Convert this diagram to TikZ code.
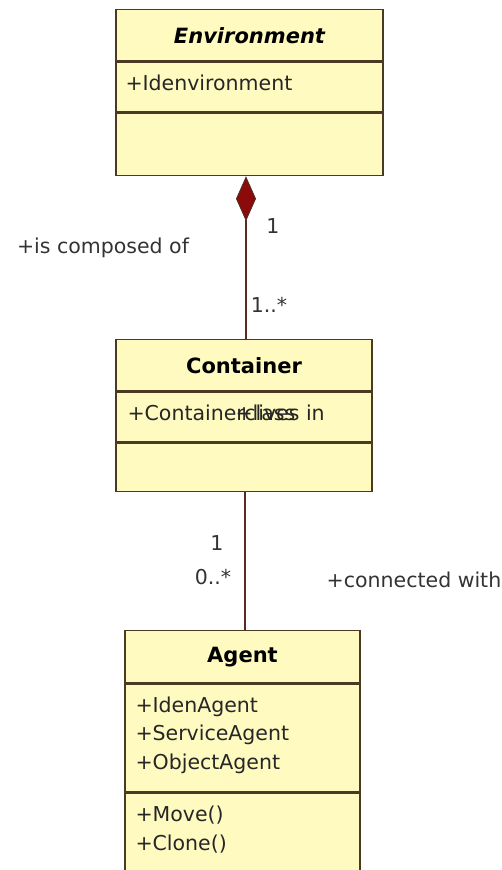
\documentclass[tikz,border=0pt]{standalone}
\usepackage{fontspec}
\setmainfont{DejaVu Sans}
\usetikzlibrary{arrows.meta,positioning,calc}
\definecolor{umlfill}{HTML}{FFFAC0}
\definecolor{umlborder}{HTML}{4A3A22}
\definecolor{assocline}{HTML}{5A2A22}
\definecolor{diamondred}{HTML}{8B0A0A}

\tikzset{
  classpart/.style={draw=umlborder, fill=umlfill, line width=1.4pt, anchor=north,
    inner sep=0pt, font=\fontsize{21}{26}\selectfont},
  attrtext/.style={anchor=north west, align=left, inner sep=0pt,
    font=\fontsize{20.5}{28.5}\selectfont, text=black!85},
  assoc/.style={draw=assocline, line width=1.4pt},
  rolelabel/.style={font=\fontsize{20.5}{24}\selectfont, text=black!80, inner sep=0pt}
}

\begin{document}
\begin{tikzpicture}[x=1pt, y=-1pt]
  \useasboundingbox (0,0) rectangle (502,870);
  \clip (0,0) rectangle (502,870);
  % Environment
  \node[classpart, minimum width=267pt, minimum height=51pt] (env1) at (249.5,9) {\bfseries\itshape Environment};
  \node[classpart, minimum width=267pt, minimum height=50pt, below=0pt of env1] (env2) {};
  \node[classpart, minimum width=267pt, minimum height=62pt, below=0pt of env2] (env3) {};
  \node[attrtext] (envattr) at ($(env2.north west)+(10,13)$) {+Idenvironment};
  % Container
  \node[classpart, minimum width=256pt, minimum height=51pt] (cont1) at (244,339) {\bfseries Container};
  \node[classpart, minimum width=256pt, minimum height=50pt, below=0pt of cont1] (cont2) {};
  \node[classpart, minimum width=256pt, minimum height=48pt, below=0pt of cont2] (cont3) {};
  \node[attrtext] (contattr) at ($(cont2.north west)+(12,13)$) {+Containerclass};
  \node[attrtext] (controle) at ($(cont2.north west)+(120,13)$) {+lives in};
  % Agent
  \node[classpart, minimum width=235pt, minimum height=52pt] (agent1) at (242.5,630) {\bfseries Agent};
  \node[classpart, minimum width=235pt, minimum height=108pt, below=0pt of agent1] (agent2) {};
  \node[classpart, minimum width=235pt, minimum height=100pt, below=0pt of agent2] (agent3) {};
  \node[attrtext] (agentattr) at ($(agent2.north west)+(11,13)$) {+IdenAgent\\+ServiceAgent\\+ObjectAgent};
  \node[attrtext] (agentops) at ($(agent3.north west)+(11,13)$) {+Move()\\+Clone()};
  % Associations
  \draw[assoc, -{Diamond[length=45pt, width=20pt, fill=diamondred, line width=1pt]}]
    ($(cont1.north)+(2,0)$) -- ($(cont1.north |- env3.south)+(2,0)$);
  \draw[assoc] ($(cont3.south)+(1,0)$) -- ($(cont3.south |- agent1.north)+(1,0)$);
  % Labels
  \node[rolelabel] (envmult) at (273,226) {1};
  \node[rolelabel] (composed) at (103,248) {+is composed of};
  \node[rolelabel] (contmult) at (269,305) {1..*};
  \node[rolelabel] (contone) at (217,543) {1};
  \node[rolelabel] (agentmult) at (213,577) {0..*};
  \node[rolelabel] (connected) at (414,580) {+connected with};
\end{tikzpicture}
\end{document}
